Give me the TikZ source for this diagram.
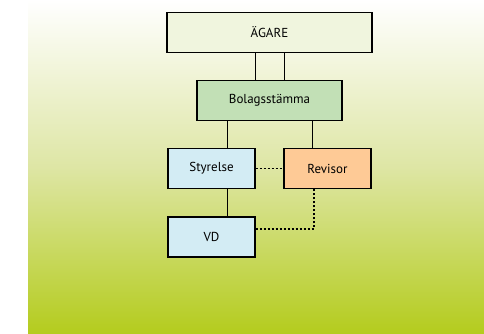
\documentclass[tikz,border=0pt]{standalone}
\usepackage{fontspec}
\setmainfont{PT Sans}
\definecolor{bgbot}{RGB}{180,204,30}
\definecolor{bgtop}{RGB}{255,255,255}
\definecolor{ownerfill}{RGB}{240,245,222}
\definecolor{meetfill}{RGB}{194,224,182}
\definecolor{boardfill}{RGB}{211,236,244}
\definecolor{auditfill}{RGB}{254,202,150}
\begin{document}
\begin{tikzpicture}[x=1pt,y=-1pt,
  box/.style={draw=black,line width=1.4pt,minimum height=40pt,inner sep=0pt,font=\fontsize{13}{15}\selectfont},
  link/.style={draw=black,line width=0.9pt},
  dotlink/.style={draw=black,line width=1.3pt,dash pattern=on 2pt off 2pt}]
\useasboundingbox (0,0) rectangle (484,333);
\shade[top color=bgtop,bottom color=bgbot,middle color={rgb,255:red,222;green,230;blue,165}] (28,0) rectangle (484,333);
\node[box,fill=ownerfill,minimum width=205pt] (owner) at (269.5,32.5) {ÄGARE};
\node[box,fill=meetfill,minimum width=145pt] (meet) at (269.5,100.5) {Bolagsstämma};
\node[box,fill=boardfill,minimum width=87pt] (board) at (211.5,168.5) {Styrelse};
\node[box,fill=auditfill,minimum width=87pt] (audit) at (327.5,168.5) {Revisor};
\node[box,fill=boardfill,minimum width=87pt] (vd) at (211.5,237) {VD};
\draw[link] (owner.south -| 255,0) -- (meet.north -| 255,0);
\draw[link] (owner.south -| 284,0) -- (meet.north -| 284,0);
\draw[link] (meet.south -| 227,0) -- (board.north -| 227,0);
\draw[link] (meet.south -| 312,0) -- (audit.north -| 312,0);
\draw[link] (board.south -| 227,0) -- (vd.north -| 227,0);
\draw[dotlink] (board.east) -- (audit.west);
\draw[dotlink] (vd.east |- 0,229) -- (314,229) -- (audit.south -| 314,0);
\end{tikzpicture}
\end{document}
